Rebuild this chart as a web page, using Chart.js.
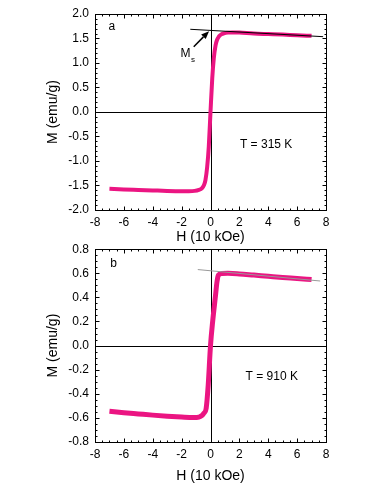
<!DOCTYPE html>
<html>
<head>
<meta charset="utf-8">
<script src="https://cdn.jsdelivr.net/npm/chart.js@4.4.0/dist/chart.umd.min.js"></script>
<style>
  html, body { margin: 0; padding: 0; background: #fff; }
  #wrap { position: relative; width: 382px; height: 494px; overflow: hidden; }
  canvas { position: absolute; left: 0; }
  #chartA { top: 0; }
  #chartB { top: 236px; }
</style>
</head>
<body>
<div id="wrap">
  <canvas id="chartA" width="382" height="250"></canvas>
  <canvas id="chartB" width="382" height="258"></canvas>
</div>
<script>
// tick labels
const xTicks = [-8, -6, -4, -2, 0, 2, 4, 6, 8];
const yTicksA = [-2, -1.5, -1, -0.5, 0, 0.5, 1, 1.5, 2];
const yTicksB = [-0.8, -0.6, -0.4, -0.2, 0, 0.2, 0.4, 0.6, 0.8];

// panel a, T = 315 K
const hA = [-7, -6, -5, -4, -3, -2, -1.5, -1.1, -0.8, -0.6, -0.45, -0.35, -0.23, -0.12, 0,
            0.12, 0.23, 0.35, 0.45, 0.58, 0.75, 0.93, 1.2, 1.5, 2, 3, 4, 5, 6, 7];
const mA = [-1.565, -1.58, -1.59, -1.6, -1.61, -1.615, -1.615, -1.61, -1.59, -1.56, -1.49, -1.39, -1.12, -0.71, 0,
            0.68, 1.1, 1.36, 1.47, 1.54, 1.585, 1.605, 1.62, 1.625, 1.62, 1.6, 1.59, 1.58, 1.565, 1.555];
// linear fit used for Ms
const fitA_H = [-1.4, 7.8];
const fitA_M = [1.688, 1.537];

// panel b, T = 910 K
const hB = [-7, -6, -5, -4, -3, -2, -1.2, -0.8, -0.58, -0.45, -0.3, -0.16, 0,
            0.15, 0.35, 0.45, 0.55, 0.8, 1.2, 2, 3, 4, 5, 6, 7];
const mB = [-0.545, -0.557, -0.567, -0.577, -0.586, -0.593, -0.597, -0.593, -0.58, -0.56, -0.52, -0.33, 0,
            0.2, 0.42, 0.53, 0.585, 0.598, 0.6, 0.595, 0.585, 0.575, 0.565, 0.557, 0.548];
const fitB_H = [-0.88, 7.6];
const fitB_M = [0.631, 0.536];

const PINK = '#eb1582';
const FONT = "'Liberation Sans', Arial, sans-serif";

const pts = (xs, ys) => xs.map((v, i) => ({ x: v, y: ys[i] }));

// frame, inward ticks, zero lines, labels
const framePlugin = {
  id: 'frame',
  beforeDatasetsDraw(chart, args, opts) {
    const { ctx, chartArea: a, scales: { x, y } } = chart;
    ctx.save();
    ctx.strokeStyle = '#000';
    ctx.lineWidth = 1;
    const zx = Math.round(x.getPixelForValue(0)) + 0.5;
    const zy = Math.round(y.getPixelForValue(0)) + 0.5;
    ctx.beginPath();
    ctx.moveTo(a.left, zy); ctx.lineTo(a.right, zy);
    ctx.moveTo(zx, a.top); ctx.lineTo(zx, a.bottom);
    ctx.stroke();
    ctx.restore();
  },
  afterDraw(chart, args, opts) {
    const { ctx, chartArea: a, scales: { x, y } } = chart;
    ctx.save();
    ctx.strokeStyle = '#000';
    ctx.lineWidth = 1;
    const L = Math.round(a.left) + 0.5, R = Math.round(a.right) + 0.5;
    const T = Math.round(a.top) + 0.5, B = Math.round(a.bottom) + 0.5;
    ctx.strokeRect(L, T, R - L, B - T);
    ctx.beginPath();
    const isMajor = (v, step) => Math.abs(v / step - Math.round(v / step)) < 1e-6;
    for (let v = x.min; v <= x.max + 1e-9; v += opts.xMinor) {
      const len = isMajor(v, opts.xMajor) ? 4 : 2;
      const px = Math.round(x.getPixelForValue(v)) + 0.5;
      ctx.moveTo(px, B); ctx.lineTo(px, B - len);
      ctx.moveTo(px, T); ctx.lineTo(px, T + len);
    }
    for (let v = y.min; v <= y.max + 1e-9; v += opts.yMinor) {
      const len = isMajor(v, opts.yMajor) ? 4 : 2;
      const py = Math.round(y.getPixelForValue(v)) + 0.5;
      ctx.moveTo(L, py); ctx.lineTo(L + len, py);
      ctx.moveTo(R, py); ctx.lineTo(R - len, py);
    }
    ctx.stroke();

    ctx.fillStyle = '#000';
    ctx.textBaseline = 'alphabetic';
    ctx.textAlign = 'left';
    (opts.texts || []).forEach(t => {
      ctx.font = t.size + 'px ' + FONT;
      const px = x.getPixelForValue(t.x), py = y.getPixelForValue(t.y);
      ctx.fillText(t.text, px, py);
      if (t.sub) {
        const w = ctx.measureText(t.text).width;
        ctx.font = t.subSize + 'px ' + FONT;
        ctx.fillText(t.sub, px + w + 0.5, py + 5);
      }
    });

    if (opts.arrow) {
      const ar = opts.arrow;
      const x1 = x.getPixelForValue(ar.from[0]), y1 = y.getPixelForValue(ar.from[1]);
      const x2 = x.getPixelForValue(ar.to[0]), y2 = y.getPixelForValue(ar.to[1]);
      const ang = Math.atan2(y2 - y1, x2 - x1);
      const hl = 8, hw = 3.2;
      const bx = x2 - hl * Math.cos(ang), by = y2 - hl * Math.sin(ang);
      ctx.lineWidth = 1.5;
      ctx.beginPath();
      ctx.moveTo(x1, y1); ctx.lineTo(bx, by);
      ctx.stroke();
      ctx.beginPath();
      ctx.moveTo(x2, y2);
      ctx.lineTo(bx + hw * Math.sin(ang), by - hw * Math.cos(ang));
      ctx.lineTo(bx - hw * Math.sin(ang), by + hw * Math.cos(ang));
      ctx.closePath();
      ctx.fill();
    }
    ctx.restore();
  }
};

function makeChart(id, cfg) {
  return new Chart(document.getElementById(id), {
    type: 'line',
    data: {
      datasets: [
        {
          data: pts(cfg.fitH, cfg.fitM),
          borderColor: cfg.fitColor,
          borderWidth: 1,
          pointRadius: 0,
          fill: false,
        },
        {
          data: pts(cfg.h, cfg.m),
          borderColor: PINK,
          borderWidth: cfg.lw,
          pointRadius: 0,
          cubicInterpolationMode: 'monotone',
          fill: false,
        },
      ],
    },
    options: {
      responsive: false,
      animation: false,
      devicePixelRatio: 1,
      layout: { padding: { left: 40, right: 56, top: cfg.padTop, bottom: 0 } },
      plugins: {
        legend: { display: false },
        tooltip: { enabled: false },
        frame: { xMinor: 0.5, xMajor: 2, yMinor: cfg.yMinor, yMajor: cfg.yMajor, texts: cfg.texts, arrow: cfg.arrow },
      },
      scales: {
        x: {
          type: 'linear',
          min: -8, max: 8,
          afterBuildTicks: s => { s.ticks = xTicks.map(v => ({ value: v })); },
          afterFit: s => { s.height = cfg.xAxisH; },
          grid: { display: false, drawTicks: false },
          border: { display: false },
          ticks: { color: '#000', padding: 5, font: { family: FONT, size: 12 }, callback: v => String(v) },
          title: { display: true, text: 'H (10 kOe)', color: '#000', font: { family: FONT, size: 14 }, padding: { top: 0, bottom: cfg.xTitlePad } },
        },
        y: {
          type: 'linear',
          min: cfg.yTicks[0], max: cfg.yTicks[cfg.yTicks.length - 1],
          afterBuildTicks: s => { s.ticks = cfg.yTicks.map(v => ({ value: v })); },
          afterFit: s => { s.width = 55; },
          grid: { display: false, drawTicks: false },
          border: { display: false },
          ticks: { color: '#000', padding: 6, font: { family: FONT, size: 12 }, callback: v => Number(v).toFixed(1) },
          title: { display: true, text: 'M (emu/g)', color: '#000', font: { family: FONT, size: 14 }, padding: { top: 5, bottom: 0 } },
        },
      },
    },
    plugins: [framePlugin],
  });
}

makeChart('chartA', {
  h: hA, m: mA, fitH: fitA_H, fitM: fitA_M, fitColor: '#000', lw: 4,
  yTicks: yTicksA, yMinor: 0.1, yMajor: 0.5,
  padTop: 14, xAxisH: 40, xTitlePad: 4,
  texts: [
    { text: 'a', x: -7.06, y: 1.673, size: 12 },
    { text: 'M', sub: 's', x: -2.08, y: 1.116, size: 12, subSize: 8 },
    { text: 'T = 315 K', x: 2.04, y: -0.735, size: 12 },
  ],
  arrow: { from: [-1.16, 1.333], to: [-0.1, 1.65] },
});

makeChart('chartB', {
  h: hB, m: mB, fitH: fitB_H, fitM: fitB_M, fitColor: '#999', lw: 5,
  yTicks: yTicksB, yMinor: 0.05, yMajor: 0.2,
  padTop: 10, xAxisH: 52, xTitlePad: 9,
  texts: [
    { text: 'b', x: -6.94, y: 0.653, size: 12 },
    { text: 'T = 910 K', x: 2.43, y: -0.288, size: 12 },
  ],
});
</script>
</body>
</html>
